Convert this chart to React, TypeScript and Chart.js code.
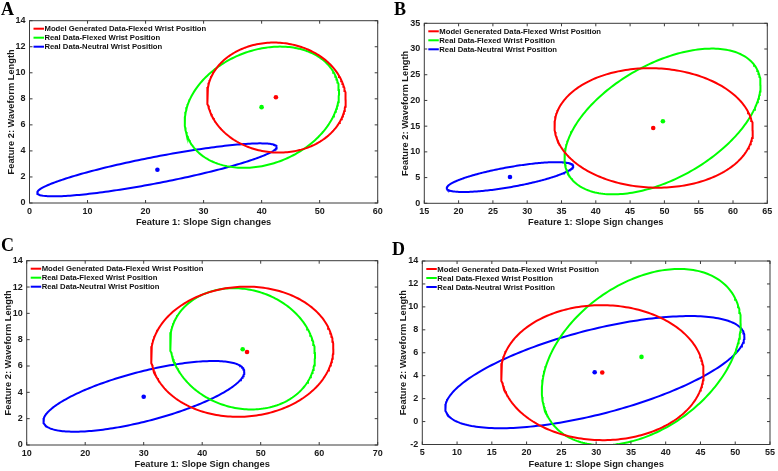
import React, { useEffect, useRef } from 'react';
import { Chart, registerables } from 'chart.js';

Chart.register(...registerables);

// ---------- shared series info ----------
const seriesLabels = [
  'Model Generated Data-Flexed Wrist Position',
  'Real Data-Flexed Wrist Position',
  'Real Data-Neutral Wrist Position',
];
const seriesColors = ['#ff0000', '#00ff00', '#0000ff'];
const xTitle = 'Feature 1: Slope Sign changes';
const yTitle = 'Feature 2: Waveform Length';

// ---------- Panel A ----------
const aXAxis = [0, 60, 10]; // min, max, step
const aYAxis = [0, 14, 2];
const aMeanX = [42.46, 39.99, 22.04];
const aMeanY = [8.12, 7.36, 2.55];
const aEllXMin = [30.6, 26.75, 1.32];
const aEllXMax = [54.5, 53.34, 42.6];
const aEllYMin = [3.87, 2.7, 0.51];
const aEllYMax = [12.32, 12.01, 4.58];
const aEllYAtRight = [7.94, 8.45, 4.3];

// ---------- Panel B ----------
const bXAxis = [15, 65, 5];
const bYAxis = [0, 35, 5];
const bMeanX = [48.37, 49.78, 27.49];
const bMeanY = [14.65, 15.95, 5.1];
const bEllXMin = [33.98, 35.44, 18.27];
const bEllXMax = [62.9, 64.02, 36.71];
const bEllYMin = [3.03, 1.74, 2.2];
const bEllYMax = [26.27, 30.08, 8.0];
const bEllYAtRight = [14.2, 23.05, 7.23];

// ---------- Panel C ----------
const cXAxis = [10, 70, 10];
const cYAxis = [0, 14, 2];
const cMeanX = [47.66, 46.92, 30.0];
const cMeanY = [7.06, 7.27, 3.66];
const cEllXMin = [31.25, 34.5, 12.85];
const cEllXMax = [62.42, 59.29, 47.2];
const cEllYMin = [2.14, 2.7, 1.01];
const cEllYMax = [12.03, 11.91, 6.38];
const cEllYAtRight = [7.32, 6.75, 5.55];

// ---------- Panel D ----------
const dXAxis = [5, 55, 5];
const dYAxis = [-2, 14, 2];
const dMeanX = [30.88, 36.52, 29.79];
const dMeanY = [4.28, 5.64, 4.3];
const dEllXMin = [16.32, 22.19, 8.3];
const dEllXMax = [45.45, 50.8, 51.32];
const dEllYMin = [-1.62, -2.06, -0.58];
const dEllYMax = [10.15, 13.31, 9.2];
const dEllYAtRight = [4.22, 8.56, 7.4];

type PanelData = {
  xAxis: number[];
  yAxis: number[];
  meanX: number[];
  meanY: number[];
  ellXMin: number[];
  ellXMax: number[];
  ellYMin: number[];
  ellYMax: number[];
  ellYAtRight: number[];
};

const panelData: PanelData[] = [
  { xAxis: aXAxis, yAxis: aYAxis, meanX: aMeanX, meanY: aMeanY, ellXMin: aEllXMin, ellXMax: aEllXMax, ellYMin: aEllYMin, ellYMax: aEllYMax, ellYAtRight: aEllYAtRight },
  { xAxis: bXAxis, yAxis: bYAxis, meanX: bMeanX, meanY: bMeanY, ellXMin: bEllXMin, ellXMax: bEllXMax, ellYMin: bEllYMin, ellYMax: bEllYMax, ellYAtRight: bEllYAtRight },
  { xAxis: cXAxis, yAxis: cYAxis, meanX: cMeanX, meanY: cMeanY, ellXMin: cEllXMin, ellXMax: cEllXMax, ellYMin: cEllYMin, ellYMax: cEllYMax, ellYAtRight: cEllYAtRight },
  { xAxis: dXAxis, yAxis: dYAxis, meanX: dMeanX, meanY: dMeanY, ellXMin: dEllXMin, ellXMax: dEllXMax, ellYMin: dEllYMin, ellYMax: dEllYMax, ellYAtRight: dEllYAtRight },
];

// ---------- layout (positions only) ----------
const panelLayout = [
  { letter: 'A', left: 0, top: 0, w: 389, h: 235, area: { l: 29.5, t: 20.7, r: 377.7, b: 203 }, titleX: 6.7, titleY: 5.4, letterX: 1, letterY: 0 },
  { letter: 'B', left: 389, top: 0, w: 389, h: 235, area: { l: 35.3, t: 23.3, r: 378.3, b: 203.3 }, titleX: 6.7, titleY: 10.9, letterX: 394, letterY: 0 },
  { letter: 'C', left: 0, top: 235, w: 389, h: 236, area: { l: 26.7, t: 25.7, r: 377.7, b: 210 }, titleX: 1.1, titleY: 2.6, letterX: 1, letterY: 236 },
  { letter: 'D', left: 389, top: 235, w: 389, h: 236, area: { l: 33.3, t: 26, r: 382.5, b: 209.5 }, titleX: 1.1, titleY: 9.2, letterX: 392, letterY: 240 },
];

// Ellipse outline through the extents:
// x = cx + w cos t, y = cy + h cos(t - phi), where cos(phi) follows from the y at the rightmost point.
function ellipsePoints(xMin: number, xMax: number, yMin: number, yMax: number, yRight: number) {
  const cx = (xMin + xMax) / 2;
  const w = (xMax - xMin) / 2;
  const cy = (yMin + yMax) / 2;
  const h = (yMax - yMin) / 2;
  const rho = Math.max(-1, Math.min(1, (yRight - cy) / h));
  const phi = Math.acos(rho);
  const pts: { x: number; y: number }[] = [];
  const n = 240;
  for (let i = 0; i <= n; i++) {
    const t = (i / n) * Math.PI * 2;
    pts.push({ x: cx + w * Math.cos(t), y: cy + h * Math.cos(t - phi) });
  }
  return pts;
}

const FONT = '"Liberation Sans", Arial, Helvetica, sans-serif';

const boxPlugin = {
  id: 'boxTicks',
  afterDatasetsDraw(chart: any) {
    const { ctx, chartArea: a, scales } = chart;
    ctx.save();
    ctx.strokeStyle = '#3a3a3a';
    ctx.lineWidth = 1;
    ctx.strokeRect(a.left, a.top, a.right - a.left, a.bottom - a.top);
    const tl = 3;
    ctx.beginPath();
    scales.x.ticks.forEach((t: any) => {
      const px = scales.x.getPixelForValue(t.value);
      ctx.moveTo(px, a.bottom);
      ctx.lineTo(px, a.bottom - tl);
      ctx.moveTo(px, a.top);
      ctx.lineTo(px, a.top + tl);
    });
    scales.y.ticks.forEach((t: any) => {
      const py = scales.y.getPixelForValue(t.value);
      ctx.moveTo(a.left, py);
      ctx.lineTo(a.left + tl, py);
      ctx.moveTo(a.right, py);
      ctx.lineTo(a.right - tl, py);
    });
    ctx.stroke();

    // legend inside the axes, top-left
    ctx.font = `bold 7.7px ${FONT}`;
    ctx.textBaseline = 'middle';
    ctx.textAlign = 'left';
    seriesLabels.forEach((lab, i) => {
      const y = a.top + 8 + i * 9;
      ctx.strokeStyle = seriesColors[i];
      ctx.lineWidth = 2;
      ctx.beginPath();
      ctx.moveTo(a.left + 4, y);
      ctx.lineTo(a.left + 14.5, y);
      ctx.stroke();
      ctx.fillStyle = '#111';
      ctx.fillText(lab, a.left + 15, y + 0.5);
    });
    ctx.restore();
  },
};

function Panel({ idx }: { idx: number }) {
  const ref = useRef<HTMLCanvasElement | null>(null);
  const L = panelLayout[idx];
  const D = panelData[idx];

  useEffect(() => {
    if (!ref.current) return;
    const datasets: any[] = [];
    seriesLabels.forEach((lab, i) => {
      datasets.push({
        label: lab + ' ellipse',
        data: ellipsePoints(D.ellXMin[i], D.ellXMax[i], D.ellYMin[i], D.ellYMax[i], D.ellYAtRight[i]),
        showLine: true,
        borderColor: seriesColors[i],
        borderWidth: 2,
        pointRadius: 0,
        fill: false,
        tension: 0,
      });
    });
    seriesLabels.forEach((lab, i) => {
      datasets.push({
        label: lab + ' mean',
        data: [{ x: D.meanX[i], y: D.meanY[i] }],
        showLine: false,
        pointRadius: 2.3,
        pointBackgroundColor: seriesColors[i],
        pointBorderColor: seriesColors[i],
        pointBorderWidth: 0,
      });
    });

    const chart = new Chart(ref.current, {
      type: 'scatter',
      data: { datasets },
      options: {
        animation: false,
        responsive: false,
        maintainAspectRatio: false,
        devicePixelRatio: 1,
        events: [],
        layout: { padding: { top: L.area.t, right: L.w - L.area.r, left: 0, bottom: 0 } },
        plugins: { legend: { display: false }, tooltip: { enabled: false } },
        scales: {
          x: {
            type: 'linear',
            min: D.xAxis[0],
            max: D.xAxis[1],
            ticks: {
              stepSize: D.xAxis[2],
              autoSkip: false,
              maxRotation: 0,
              padding: 3,
              color: '#1a1a1a',
              font: { family: FONT, size: 9, weight: 'bold' },
            },
            grid: { display: false, drawTicks: false },
            border: { display: false },
            title: {
              display: true,
              text: xTitle,
              color: '#1a1a1a',
              font: { family: FONT, size: 9.3, weight: 'bold' },
              padding: { top: 0, bottom: L.titleX },
            },
            afterFit: (s: any) => {
              s.height = L.h - L.area.b;
            },
          },
          y: {
            type: 'linear',
            min: D.yAxis[0],
            max: D.yAxis[1],
            ticks: {
              stepSize: D.yAxis[2],
              autoSkip: false,
              padding: 4,
              color: '#1a1a1a',
              font: { family: FONT, size: 9, weight: 'bold' },
            },
            grid: { display: false, drawTicks: false },
            border: { display: false },
            title: {
              display: true,
              text: yTitle,
              color: '#1a1a1a',
              font: { family: FONT, size: 9.3, weight: 'bold' },
              padding: { top: L.titleY, bottom: 0 },
            },
            afterFit: (s: any) => {
              s.width = L.area.l;
            },
          },
        },
      } as any,
      plugins: [boxPlugin],
    });
    return () => chart.destroy();
  }, [idx]);

  return (
    <canvas
      ref={ref}
      width={L.w}
      height={L.h}
      style={{ position: 'absolute', left: L.left, top: L.top, width: L.w, height: L.h }}
    />
  );
}

export default function App() {
  return (
    <div style={{ position: 'absolute', left: 0, top: 0, width: 778, height: 471, background: '#fff', overflow: 'hidden' }}>
      {panelLayout.map((L, i) => (
        <Panel key={i} idx={i} />
      ))}
      {panelLayout.map((L, i) => (
        <div
          key={'l' + i}
          style={{
            position: 'absolute',
            left: L.letterX,
            top: L.letterY,
            font: 'bold 18px "Liberation Serif", "Times New Roman", serif',
            lineHeight: '18px',
            color: '#000',
          }}
        >
          {L.letter}
        </div>
      ))}
    </div>
  );
}
